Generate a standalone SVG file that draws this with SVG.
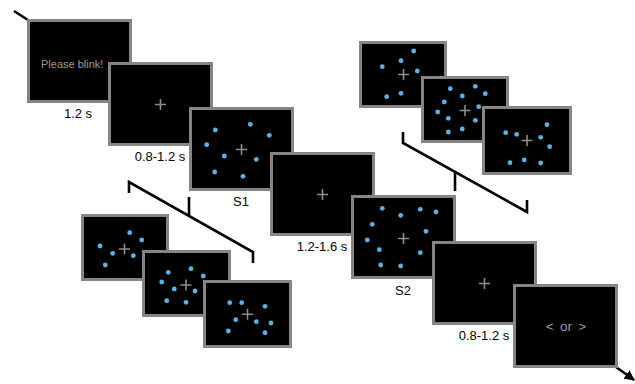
<svg xmlns="http://www.w3.org/2000/svg" width="635" height="384" viewBox="0 0 635 384">
<style>
.scr{fill:#000;stroke:#858585;stroke-width:3}
.cr{stroke:#8c8c8c;stroke-width:1.6;fill:none}
.d{fill:#56B4E9}
.lbl{font-family:"Liberation Sans",Arial,sans-serif;font-size:13px;fill:#000;text-anchor:middle}
.gt{font-family:"Liberation Sans",Arial,sans-serif;fill:#9a9a9a}
.br{fill:none;stroke:#000;stroke-width:2.6}
</style>
<defs>
<marker id="ah" viewBox="0 0 10 10" refX="9" refY="5" markerWidth="4" markerHeight="4" orient="auto" markerUnits="strokeWidth">
<path d="M0,0 L10,5 L0,10 z" fill="#000"/>
</marker>
</defs>
<rect width="635" height="384" fill="#fff"/>
<g id="connectors">
<line x1="14" y1="11" x2="28" y2="20" stroke="#000" stroke-width="2.6"/>
<line x1="616" y1="367" x2="634" y2="380" stroke="#000" stroke-width="2.6" marker-end="url(#ah)"/>
<polyline class="br" points="403,132 403,143 527,212 527,200"/>
<line class="br" x1="455" y1="172" x2="455" y2="191"/>
<polyline class="br" points="129,193 129,182 253,252 253,263"/>
<line class="br" x1="189" y1="197" x2="189" y2="216"/>
</g>
<g id="blink">
<rect class="scr" x="28.5" y="20.5" width="102" height="81"/>
<text class="gt" x="41" y="68" font-size="11">Please blink!</text>
<text class="lbl" x="78" y="118">1.2 s</text>
</g>
<g id="fix1">
<rect class="scr" x="109.5" y="63.5" width="102" height="81"/>
<path class="cr" d="M155,104.5h11M160.5,99v11"/>
<text class="lbl" x="160" y="161">0.8-1.2 s</text>
</g>
<g id="s1">
<rect class="scr" x="190.5" y="108.5" width="102" height="81"/>
<path class="cr" d="M236,149.5h11M241.5,144v11"/>
<circle class="d" cx="215.3" cy="130" r="2.4"/>
<circle class="d" cx="250.3" cy="124.3" r="2.4"/>
<circle class="d" cx="269.3" cy="135.3" r="2.4"/>
<circle class="d" cx="206.7" cy="144.7" r="2.4"/>
<circle class="d" cx="224.3" cy="156" r="2.4"/>
<circle class="d" cx="256.3" cy="159.3" r="2.4"/>
<circle class="d" cx="214.7" cy="172" r="2.4"/>
<circle class="d" cx="243" cy="176.3" r="2.4"/>
<text class="lbl" x="241" y="206">S1</text>
</g>
<g id="fix2">
<rect class="scr" x="271.5" y="153.5" width="102" height="81"/>
<path class="cr" d="M317,194.5h11M322.5,189v11"/>
<text class="lbl" x="322" y="251">1.2-1.6 s</text>
</g>
<g id="s2">
<rect class="scr" x="352.5" y="196.5" width="102" height="81"/>
<path class="cr" d="M398,238.5h11M403.5,233v11"/>
<circle class="d" cx="382.3" cy="208.3" r="2.4"/>
<circle class="d" cx="400.7" cy="215.3" r="2.4"/>
<circle class="d" cx="420.3" cy="209.3" r="2.4"/>
<circle class="d" cx="436" cy="212" r="2.4"/>
<circle class="d" cx="372.3" cy="224.3" r="2.4"/>
<circle class="d" cx="426" cy="231.3" r="2.4"/>
<circle class="d" cx="367.3" cy="240" r="2.4"/>
<circle class="d" cx="379.3" cy="249.7" r="2.4"/>
<circle class="d" cx="420.3" cy="252.7" r="2.4"/>
<circle class="d" cx="380.7" cy="265" r="2.4"/>
<circle class="d" cx="400.7" cy="266" r="2.4"/>
<text class="lbl" x="403" y="295">S2</text>
</g>
<g id="fix3">
<rect class="scr" x="433.5" y="242.5" width="102" height="81"/>
<path class="cr" d="M479,283.5h11M484.5,278v11"/>
<text class="lbl" x="484" y="340">0.8-1.2 s</text>
</g>
<g id="resp">
<rect class="scr" x="514.5" y="285.5" width="102" height="81"/>
<text class="gt" x="566" y="331" font-size="13.5" text-anchor="middle" word-spacing="2.5">&lt; or &gt;</text>
</g>
<g id="ex1a">
<rect class="scr" x="360.5" y="42.5" width="85" height="64"/>
<path class="cr" d="M398,74.5h11M403.5,69v11"/>
<circle class="d" cx="413.7" cy="51" r="2.4"/>
<circle class="d" cx="382.3" cy="66.7" r="2.4"/>
<circle class="d" cx="401" cy="60.7" r="2.4"/>
<circle class="d" cx="417.3" cy="71" r="2.4"/>
<circle class="d" cx="386.7" cy="96.7" r="2.4"/>
<circle class="d" cx="401" cy="93.3" r="2.4"/>
</g>
<g id="ex1b">
<rect class="scr" x="422.5" y="77.5" width="85" height="64"/>
<path class="cr" d="M459.5,110.5h11M465,105v11"/>
<circle class="d" cx="450.3" cy="88.7" r="2.4"/>
<circle class="d" cx="475.3" cy="86.3" r="2.4"/>
<circle class="d" cx="485.3" cy="93.7" r="2.4"/>
<circle class="d" cx="462.3" cy="96" r="2.4"/>
<circle class="d" cx="444.3" cy="102" r="2.4"/>
<circle class="d" cx="437.7" cy="112" r="2.4"/>
<circle class="d" cx="478.7" cy="106.7" r="2.4"/>
<circle class="d" cx="448.3" cy="118.3" r="2.4"/>
<circle class="d" cx="475.3" cy="120.3" r="2.4"/>
<circle class="d" cx="448.3" cy="132" r="2.4"/>
<circle class="d" cx="462.3" cy="129" r="2.4"/>
</g>
<g id="ex1c">
<rect class="scr" x="483.5" y="107.5" width="87" height="66"/>
<path class="cr" d="M521.5,140.5h11M527,135v11"/>
<circle class="d" cx="547" cy="124.7" r="2.4"/>
<circle class="d" cx="505.7" cy="132.7" r="2.4"/>
<circle class="d" cx="516.7" cy="134.3" r="2.4"/>
<circle class="d" cx="540.7" cy="137.3" r="2.4"/>
<circle class="d" cx="549.7" cy="146.7" r="2.4"/>
<circle class="d" cx="510" cy="162.7" r="2.4"/>
<circle class="d" cx="524.3" cy="160" r="2.4"/>
<circle class="d" cx="540.7" cy="163" r="2.4"/>
</g>
<g id="ex2a">
<rect class="scr" x="82.5" y="215.5" width="85" height="64"/>
<path class="cr" d="M119,249h11M124.5,243.5v11"/>
<circle class="d" cx="129.7" cy="232.7" r="2.4"/>
<circle class="d" cx="141.7" cy="240" r="2.4"/>
<circle class="d" cx="100" cy="246" r="2.4"/>
<circle class="d" cx="112.7" cy="253.3" r="2.4"/>
<circle class="d" cx="133.3" cy="255.7" r="2.4"/>
<circle class="d" cx="105.3" cy="265" r="2.4"/>
</g>
<g id="ex2b">
<rect class="scr" x="143.5" y="251.5" width="86" height="64"/>
<path class="cr" d="M180.5,285h11M186,279.5v11"/>
<circle class="d" cx="168.3" cy="272.3" r="2.4"/>
<circle class="d" cx="191" cy="268.7" r="2.4"/>
<circle class="d" cx="203.3" cy="276" r="2.4"/>
<circle class="d" cx="161.7" cy="282" r="2.4"/>
<circle class="d" cx="174.3" cy="289" r="2.4"/>
<circle class="d" cx="195" cy="291" r="2.4"/>
<circle class="d" cx="166.7" cy="300.7" r="2.4"/>
<circle class="d" cx="186" cy="302.3" r="2.4"/>
</g>
<g id="ex2c">
<rect class="scr" x="204.5" y="281.5" width="86" height="65"/>
<path class="cr" d="M242,314.3h11M247.5,308.8v11"/>
<circle class="d" cx="229.7" cy="302.7" r="2.4"/>
<circle class="d" cx="241.7" cy="302.7" r="2.4"/>
<circle class="d" cx="265" cy="306.3" r="2.4"/>
<circle class="d" cx="235.7" cy="319.7" r="2.4"/>
<circle class="d" cx="256.3" cy="321.7" r="2.4"/>
<circle class="d" cx="271" cy="323" r="2.4"/>
<circle class="d" cx="228.3" cy="331" r="2.4"/>
<circle class="d" cx="265" cy="332.7" r="2.4"/>
</g>
</svg>
